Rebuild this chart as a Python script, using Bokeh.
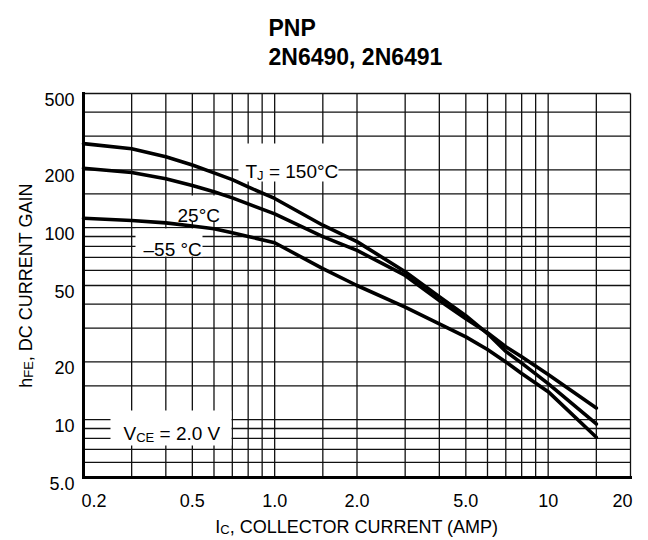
import math
from bokeh.plotting import figure
from bokeh.models import Label, Range1d
from bokeh.core.properties import value
from bokeh.embed import file_html
from bokeh.resources import INLINE

# ---------------- data ----------------
ic_amp = [0.2, 0.3, 0.4, 0.5, 0.6, 0.7, 0.8, 1.0, 1.5, 2.0, 3.0, 4.0, 5.0, 6.0, 7.0, 8.0, 10.0, 15.0]
hfe_tj150 = [274, 258, 234, 212, 193, 178, 163, 142, 103, 84.6, 59, 43.7, 34.8, 28.1, 22.7, 19.7, 15.4, 9.5]
hfe_tj25 = [204, 194, 180, 166, 154, 143, 133, 118, 89.8, 76.2, 56.4, 41.7, 33.6, 28.4, 24.0, 21.3, 17.2, 11.5]
hfe_tjm55 = [112, 109, 106, 102, 98.8, 94.2, 90.1, 83.5, 61.2, 50, 38.6, 31.6, 27, 23.2, 20, 17.4, 14, 8.1]

x_grid_values = [0.2, 0.3, 0.4, 0.5, 0.6, 0.7, 0.8, 0.9, 1, 1.5, 2, 3, 4, 5, 6, 7, 8, 9, 10, 15, 20]
y_grid_values = [5, 6, 7, 8, 9, 10, 15, 20, 30, 40, 50, 60, 70, 80, 90, 100, 150, 200, 300, 400, 500]
x_tick_values = [0.2, 0.5, 1, 2, 5, 10, 20]
x_tick_labels = ["0.2", "0.5", "1.0", "2.0", "5.0", "10", "20"]
y_tick_values = [5, 10, 20, 50, 100, 200, 500]
y_tick_labels = ["5.0", "10", "20", "50", "100", "200", "500"]

title_lines = ["PNP", "2N6490, 2N6491"]
x_label_parts = ["I", "C", ", COLLECTOR CURRENT (AMP)"]
y_label_parts = ["h", "FE", ", DC CURRENT GAIN"]
tj150_parts = ["T", "J", " = 150°C"]
tj25_text = "25°C"
tjm55_text = "–55 °C"
vce_parts = ["V", "CE", " = 2.0 V"]

# ---------------- layout ----------------
FONT = "Liberation Sans"
W_FIG, H_FIG = 648, 540
LEFT, RIGHT, TOP, BOTTOM = 83, 630, 93, 477      # plot area in canvas pixels
X_MIN, X_MAX = 0.2, 20
Y_MIN, Y_MAX = 5, 500


def dx(px):
    return X_MIN * 10 ** ((px - LEFT) / (RIGHT - LEFT) * math.log10(X_MAX / X_MIN))


def dy(py):
    return Y_MAX / 10 ** ((py - TOP) / (BOTTOM - TOP) * math.log10(Y_MAX / Y_MIN))


ADV = {' ': 278, ',': 278, '.': 278, '=': 584, '(': 333, ')': 333, '°': 400, '–': 556,
       'A': 667, 'C': 722, 'D': 722, 'E': 667, 'F': 611, 'G': 778, 'I': 278, 'J': 500,
       'L': 556, 'M': 833, 'N': 722, 'O': 778, 'P': 667, 'R': 722, 'T': 611, 'U': 722,
       'V': 667, 'h': 556}


def tw(s, size):
    return sum(ADV.get(c, 556) for c in s) * size / 1000.0


# the frame covers the whole canvas so that texts outside the plot area are not clipped
p = figure(width=W_FIG, height=H_FIG, x_axis_type="log", y_axis_type="log",
           x_axis_location=None, y_axis_location=None,
           x_range=Range1d(dx(0), dx(W_FIG)), y_range=Range1d(dy(H_FIG), dy(0)),
           min_border=0, output_backend="svg", toolbar_location=None)
p.outline_line_color = None
p.background_fill_color = "white"
p.border_fill_color = "white"
p.grid.visible = False

GRID_COLOR = "#111111"
nx, ny = len(x_grid_values), len(y_grid_values)
p.segment(x0=x_grid_values, y0=[Y_MIN] * nx, x1=x_grid_values, y1=[Y_MAX] * nx,
          line_color=GRID_COLOR, line_width=1.3)
p.segment(x0=[X_MIN] * ny, y0=y_grid_values, x1=[X_MAX] * ny, y1=y_grid_values,
          line_color=GRID_COLOR, line_width=1.3)

# white masks behind the in-plot labels (grid lines are interrupted there)
masks = [(238, 338, 143, 181), (170, 224, 195, 221), (135, 202, 228, 256), (110, 231, 410, 445)]
p.quad(left=[dx(m[0]) for m in masks], right=[dx(m[1]) for m in masks],
       top=[dy(m[2]) for m in masks], bottom=[dy(m[3]) for m in masks],
       fill_color="white", line_color=None)

# axis lines (left and bottom, heavy)
p.segment(x0=[X_MIN, X_MIN], y0=[Y_MIN, Y_MIN], x1=[X_MIN, X_MAX], y1=[Y_MAX, Y_MIN],
          line_color="black", line_width=3, line_cap="square")

for hfe in (hfe_tj150, hfe_tj25, hfe_tjm55):
    p.line(ic_amp, hfe, line_width=3.6, line_color="black", line_cap="round", line_join="round")

# tick labels
TICK_SIZE = "18px"
n_x = len(x_tick_values)
p.text(x=x_tick_values[1:-1], y=[Y_MIN] * (n_x - 2), text=x_tick_labels[1:-1],
       y_offset=23, text_align=value("center"), text_baseline=value("alphabetic"),
       text_font=value(FONT), text_font_size=value(TICK_SIZE), text_color="black")
p.text(x=x_tick_values[:1], y=[Y_MIN], text=x_tick_labels[:1], x_offset=-2,
       y_offset=23, text_align=value("left"), text_baseline=value("alphabetic"),
       text_font=value(FONT), text_font_size=value(TICK_SIZE), text_color="black")
p.text(x=x_tick_values[-1:], y=[Y_MIN], text=x_tick_labels[-1:], x_offset=2,
       y_offset=23, text_align=value("right"), text_baseline=value("alphabetic"),
       text_font=value(FONT), text_font_size=value(TICK_SIZE), text_color="black")
p.text(x=[X_MIN] * len(y_tick_values), y=y_tick_values, text=y_tick_labels,
       x_offset=-9, y_offset=6, text_align=value("right"), text_baseline=value("alphabetic"),
       text_font=value(FONT), text_font_size=value(TICK_SIZE), text_color="black")


def add_text(text, x_px, base_px, size, x_off=0, y_off=0, align="left", bold=False, angle=0.0):
    p.add_layout(Label(x=dx(x_px), y=dy(base_px), x_offset=x_off, y_offset=y_off, text=text,
                       text_font=FONT, text_font_size=f"{size}px", text_align=align,
                       text_baseline="alphabetic", text_color="black", angle=angle,
                       text_font_style="bold" if bold else "normal"))


def rich_pieces(parts, size, sub_size):
    """list of (text, font size, advance before, is_sub); leading blanks become advance."""
    off = 0.0
    out = []
    for i, t in enumerate(parts):
        s = sub_size if i == 1 else size
        stripped = t.lstrip(" ")
        off += tw(t[:len(t) - len(stripped)], s)
        out.append((stripped, s, off, i == 1))
        off += tw(stripped, s)
    return out, off


def add_rich(parts, x_px, base_px, size, sub_size, sub_shift):
    pieces, _ = rich_pieces(parts, size, sub_size)
    for t, s, off, is_sub in pieces:
        add_text(t, x_px, base_px, s, x_off=off, y_off=-sub_shift if is_sub else 0)


# title
add_text(title_lines[0], 268, 27, 23, bold=True)
add_text(title_lines[1], 268, 56, 23, bold=True)

# in-plot annotations
add_rich(tj150_parts, 245, 171, 19, 13, 4)
add_text(tj25_text, 177, 215, 19)
add_text(tjm55_text, 143, 249, 19)
add_rich(vce_parts, 123, 433, 19, 13, 4)

# x axis label
AX_SIZE, AX_SUB = 18, 13
_, x_total = rich_pieces(x_label_parts, AX_SIZE, AX_SUB)
add_rich(x_label_parts, (LEFT + RIGHT) / 2 - x_total / 2, 526, AX_SIZE, AX_SUB, 3)

# y axis label (rotated, reads bottom to top)
pieces, y_total = rich_pieces(y_label_parts, AX_SIZE, AX_SUB)
y_start = (TOP + BOTTOM) / 2 + y_total / 2
for t, s, off, is_sub in pieces:
    add_text(t, 25, y_start, s, x_off=3 if is_sub else 0, y_off=off, angle=math.pi / 2)

open("out.html", "w").write(file_html(p, INLINE))
